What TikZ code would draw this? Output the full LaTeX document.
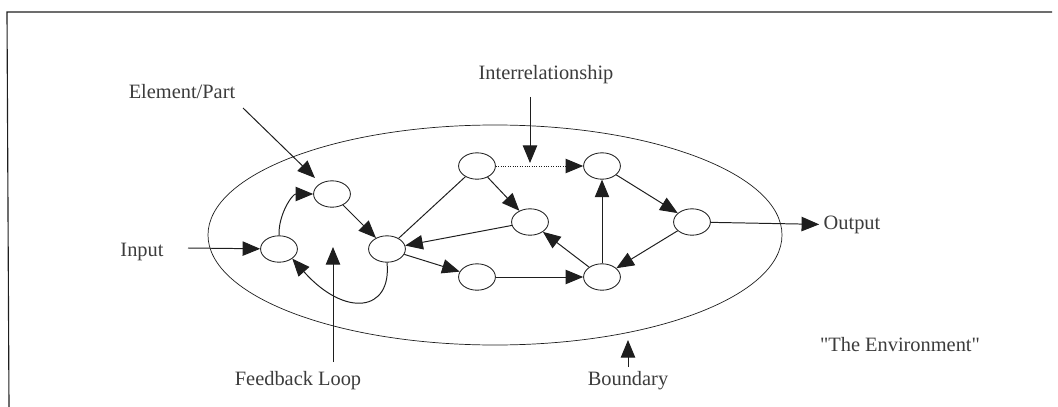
\documentclass[tikz,border=0pt]{standalone}
\usepackage{fontspec}
\setmainfont{Liberation Serif}[Ligatures=TeXOff]
\usepackage{tikz}
\usetikzlibrary{arrows.meta,shapes.geometric}
\definecolor{sysdark}{RGB}{30,30,30}
\definecolor{systext}{RGB}{60,60,60}
\tikzset{
  part/.style={ellipse,draw=sysdark,fill=white,line width=0.6pt,minimum width=0.92cm,minimum height=0.66cm,inner sep=0pt},
  lbl/.style={text=systext,font=\fontsize{14.5}{16}\selectfont,inner sep=3pt},
  arr/.style={-{Triangle[length=4.4mm,width=3.6mm]},line width=0.7pt,draw=sysdark},
  link/.style={line width=0.7pt,draw=sysdark},
}
\begin{document}
\begin{tikzpicture}[x=0.025cm,y=-0.025cm]
  \useasboundingbox (0,0) rectangle (1058,407);
  % frame and boundary
  \draw[line width=0.8pt,draw=sysdark] (9,407) -- (7,12) -- (1052,12);
  \draw[line width=0.5pt,draw=sysdark] (495,235) ellipse [x radius=287,y radius=110];

  % elements
  \node[part] (a) at (279,249) {};
  \node[part] (b) at (332,194) {};
  \node[part] (c) at (387,249) {};
  \node[part] (d) at (477,166) {};
  \node[part] (e) at (530,222) {};
  \node[part] (f) at (477,277) {};
  \node[part] (g) at (602,166) {};
  \node[part] (h) at (602,277) {};
  \node[part] (k) at (692,222) {};

  % relationships
  \draw[arr] (a.north) to[out=92,in=180] (b.west);
  \draw[arr] (b) -- (c);
  \draw[arr] (c.south) .. controls (392,312) and (345,318) .. (a.south east);
  \draw[link] (d) -- (c);
  \draw[arr] (d) -- (e);
  \draw[arr] (e) -- (c);
  \draw[arr] (c) -- (f);
  \draw[arr] (f) -- (h);
  \draw[arr] (h) -- (e);
  \draw[arr] (h) -- (g);
  \draw[arr,densely dotted] (d) -- (g);
  \draw[arr] (g) -- (k);
  \draw[arr] (k) -- (h);

  % labels
  \node[lbl] (inlabel) at (142,252) {Input};
  \node[lbl] (outlabel) at (852,225) {Output};
  \node[lbl] (elemlabel) at (182,92) {Element/Part};
  \node[lbl] (rellabel) at (546,75) {Interrelationship};
  \node[lbl] (fblabel) at (298,381) {Feedback Loop};
  \node[lbl] (bdlabel) at (628,381) {Boundary};
  \node[lbl] (envlabel) at (900,345) {"The Environment"};

  \coordinate (intail) at (188,248);
  \coordinate (elemtail) at (243,108);
  \coordinate (elemtip) at (315,178);
  \coordinate (reltail) at (530,97);
  \coordinate (reltip) at (530,163);
  \coordinate (fbtail) at (333,362);
  \coordinate (fbtip) at (333,247);
  \coordinate (bdtip) at (628,340);

  \draw[arr] (intail) -- (a);
  \draw[arr] (k) -- (outlabel);
  \draw[arr] (elemtail) -- (elemtip);
  \draw[arr] (reltail) -- (reltip);
  \draw[arr] (fbtail) -- (fbtip);
  \draw[arr] (bdlabel) -- (bdtip);
\end{tikzpicture}
\end{document}
